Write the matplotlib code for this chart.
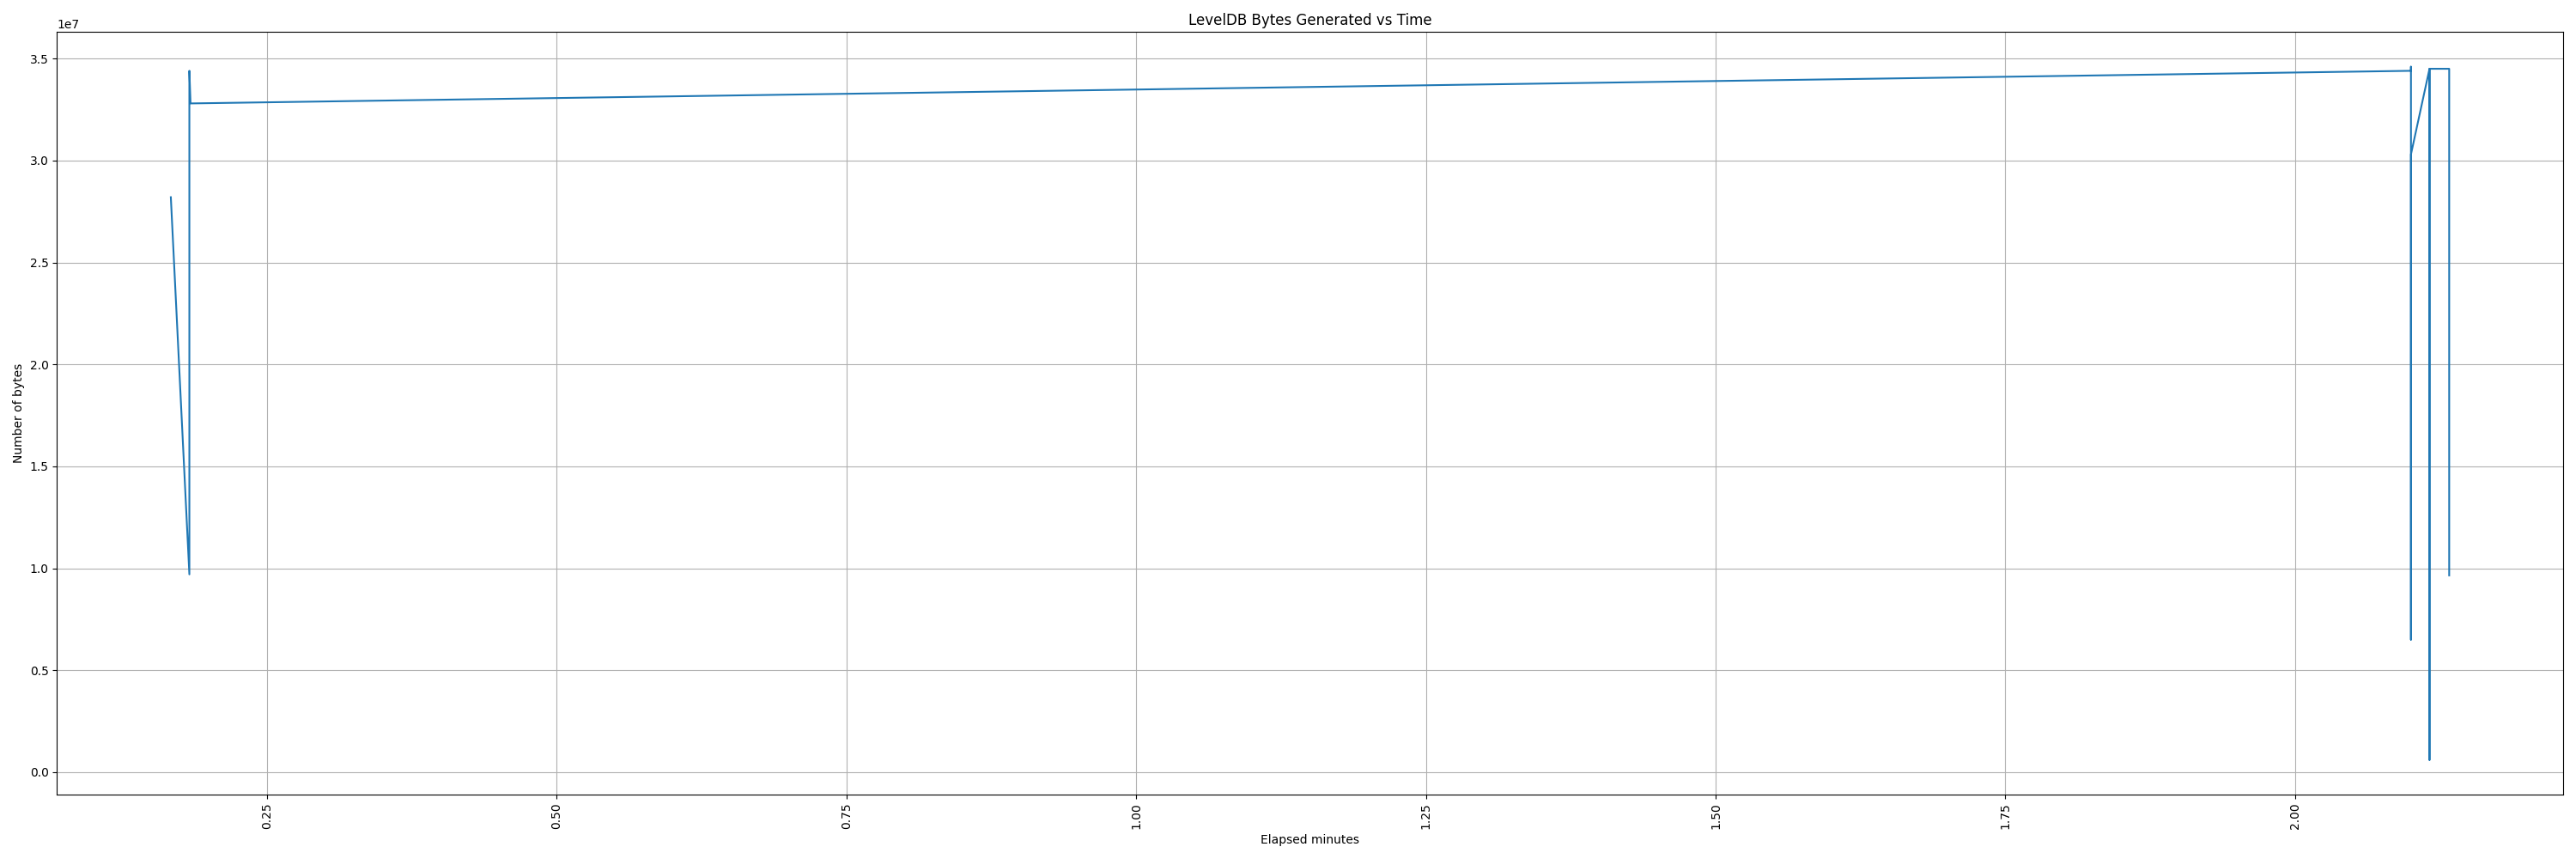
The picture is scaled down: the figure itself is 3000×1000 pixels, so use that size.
import numpy as np
import matplotlib
matplotlib.use('Agg')
import matplotlib.pyplot as plt

# Elapsed minutes and LevelDB bytes
elapsed_minutes = [0.167, 0.183, 0.183, 0.184, 2.100, 2.100, 2.100, 2.100,
                   2.116, 2.116, 2.116, 2.133, 2.133]
bytes_generated = [2.82e7, 0.97e7, 3.44e7, 3.28e7, 3.44e7, 3.46e7, 0.65e7, 3.03e7,
                   3.45e7, 0.06e7, 3.45e7, 3.45e7, 0.965e7]

plt.figure(figsize=(30, 10))
plt.plot(elapsed_minutes, bytes_generated)
plt.title('LevelDB Bytes Generated vs Time')
plt.xlabel('Elapsed minutes')
plt.ylabel('Number of bytes')
plt.xticks(rotation=90)
plt.grid(True)
plt.tight_layout()
plt.savefig('out.png', dpi=100)
